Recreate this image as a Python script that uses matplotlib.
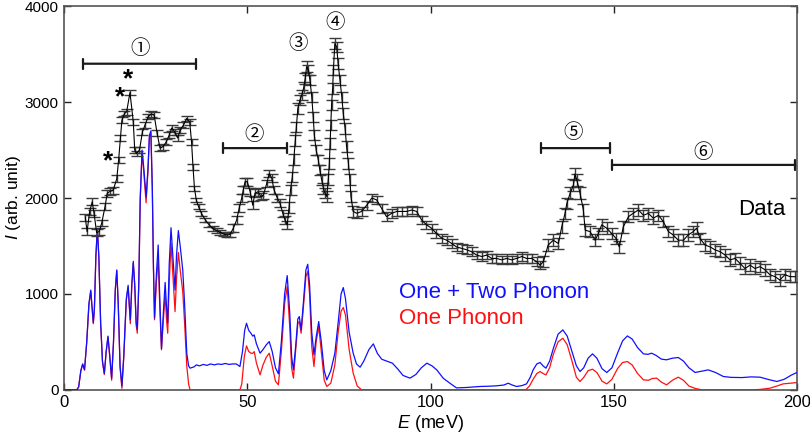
import numpy as np
import matplotlib.pyplot as plt

plt.rcParams['font.family'] = ['Liberation Sans', 'DejaVu Sans']
plt.rcParams['mathtext.fontset'] = 'custom'
plt.rcParams['mathtext.it'] = 'Liberation Sans:italic'
plt.rcParams['mathtext.rm'] = 'Liberation Sans'

# --- measured spectrum (E in meV, intensity) ---
E_data = [5.8, 6.3, 7.0, 7.7, 8.2, 8.9, 9.6, 10.3, 11.2, 11.8, 12.6, 13.4, 14.4, 14.9,
          15.4, 15.8, 16.5, 17.1, 18.0, 18.9, 19.3, 19.8, 20.6, 21.4, 22.1, 23.0, 23.8,
          24.6, 25.4, 26.2, 27.0, 27.9, 28.7, 29.4, 30.2, 31.0, 31.7, 32.6, 33.5, 34.3,
          34.8, 35.2, 35.6, 36.1, 36.7, 37.5, 38.6, 39.6, 40.7, 41.7, 42.7, 43.6, 44.5,
          45.3, 46.2, 47.1, 47.8, 48.5, 48.9, 49.4, 50.0, 50.8, 51.5, 52.1, 53.0, 53.7,
          54.4, 55.3, 56.0, 56.7, 57.3, 58.2, 58.9, 59.7, 60.3, 60.9, 61.4, 61.8, 62.3,
          62.7, 63.1, 63.4, 63.8, 64.4, 64.9, 65.4, 65.8, 66.2, 66.7, 67.1, 67.6, 68.0,
          68.3, 68.8, 69.4, 69.8, 70.3, 70.8, 71.2, 71.7, 72.1, 72.4, 72.6, 72.8, 73.0,
          73.3, 73.5, 73.9, 74.4, 74.8, 75.3, 75.8, 76.2, 76.7, 77.1, 77.6, 78.0, 78.3,
          78.9, 79.9, 81.2, 82.6, 84.0, 85.3, 86.7, 88.0, 89.4, 90.8, 92.1, 93.5, 94.9,
          96.2, 97.6, 98.9, 100.3, 101.6, 103.1, 104.4, 105.8, 107.1, 108.5, 109.9, 111.2,
          112.6, 114.0, 115.3, 116.7, 118.0, 119.4, 120.8, 122.1, 123.5, 124.9, 126.2,
          127.6, 129.0, 129.9, 130.8, 132.1, 133.5, 134.9, 135.8, 136.7, 137.2, 138.1,
          139.0, 139.4, 139.9, 140.8, 141.7, 142.2, 143.5, 144.9, 145.8, 146.7, 148.1,
          149.4, 150.6, 151.5, 152.6, 154.0, 155.3, 156.7, 158.1, 159.4, 160.8, 162.2,
          163.5, 164.9, 166.2, 167.6, 169.0, 170.3, 171.7, 172.6, 173.5, 174.9, 176.3,
          177.6, 179.0, 180.4, 181.7, 183.1, 184.4, 185.8, 187.2, 188.5, 189.9, 191.3,
          192.6, 194.0, 195.3, 196.7, 198.1, 199.5]
I_data = [1800, 1650, 1860, 1960, 1840, 1640, 1650, 1740, 1910, 2050, 2070, 2080, 2200, 2395,
          2625, 2810, 2880, 2900, 3100, 2795, 2500, 2465, 2500, 2690, 2760, 2850, 2875,
          2865, 2675, 2520, 2535, 2585, 2655, 2730, 2690, 2625, 2710, 2760, 2830, 2795,
          2585, 2325, 2100, 1980, 1910, 1840, 1770, 1720, 1680, 1660, 1640, 1625, 1615,
          1620, 1685, 1770, 1895, 2000, 2080, 2170, 2170, 2065, 1925, 2050, 2065, 2015,
          2030, 2150, 2255, 2205, 2085, 2000, 1950, 1840, 1770, 1720, 1900, 2085, 2220,
          2400, 2600, 2740, 2935, 3020, 3075, 3150, 3245, 3370, 3335, 3230, 3055, 2845,
          2655, 2500, 2395, 2290, 2190, 2100, 2050, 2015, 2190, 2360, 2570, 2760, 2970,
          3140, 3335, 3610, 3575, 3400, 3230, 3055, 2880, 2725, 2535, 2360, 2190, 2015,
          1860, 1840, 1860, 1925, 2000, 1980, 1890, 1805, 1840, 1860, 1860, 1860, 1875,
          1860, 1770, 1720, 1685, 1630, 1580, 1560, 1525, 1490, 1475, 1460, 1440,
          1405, 1390, 1405, 1370, 1370, 1355, 1370, 1355, 1370, 1390, 1370,
          1370, 1335, 1300, 1337, 1510, 1560, 1525, 1700, 1840, 1945, 2050,
          2135, 2250, 2190, 2050, 1875, 1665, 1650, 1560, 1630, 1720, 1685,
          1630, 1580, 1490, 1700, 1805, 1840, 1875, 1820, 1840, 1790, 1820,
          1755, 1650, 1615, 1560, 1560, 1615, 1650, 1685, 1580, 1510, 1490,
          1460, 1440, 1405, 1355, 1370, 1320, 1265, 1300, 1265, 1285, 1250,
          1200, 1180, 1145, 1200, 1180, 1180]

# error bar half-height read per energy range: (E_min, E_max, error)
err_ranges = [(0, 15, 35), (15, 36, 30), (36, 46, 25), (46, 61, 40),
              (61, 79, 55), (79, 130, 45), (130, 201, 60)]

# --- calculated spectra ---
E_two = [0, 3.5, 4.0, 4.6, 5.1, 5.6, 6.2, 6.8, 7.3, 7.7, 8.0, 8.3, 8.7, 9.1, 9.5, 10.0,
         10.5, 11.0, 11.5, 12.0, 12.5, 13.0, 13.5, 14.0, 14.4, 14.8, 15.3, 15.8, 16.3,
         17.0, 17.5, 17.8, 18.1, 18.5, 18.9, 19.3, 19.7, 20.0, 20.4, 20.8, 21.3, 21.8,
         22.4, 22.9, 23.3, 23.7, 24.1, 24.4, 24.7, 25.2, 25.7, 26.1, 26.6, 27.1, 27.6,
         28.0, 28.3, 28.7, 29.2, 29.7, 30.3, 30.7, 31.2, 31.7, 32.4, 32.9, 33.5, 34.0,
         34.4, 35.5, 36.1, 37, 38, 39, 40, 41, 42, 43, 44, 45, 46, 47, 48, 48.7, 49.3,
         49.8, 50.4, 51.0, 51.5, 51.9, 52.5, 53.5, 54.3, 55.2, 56.0, 56.8, 57.7, 58.5,
         59.3, 60.2, 60.9, 61.6, 62.1, 62.6, 63.2, 63.8, 64.2, 64.7, 65.3, 66.0, 66.5,
         67.0, 67.6, 68.2, 68.8, 69.5, 70.2, 71.0, 71.7, 72.8, 73.9, 74.8, 75.6, 76.2,
         76.8, 77.8, 78.9, 79.8, 80.8, 81.8, 83.2, 84.4, 85.5, 86.7, 88.0, 89.6, 91.0,
         92.5, 94.4, 96.0, 97.5, 99.0, 100.4, 101.7, 103.5, 105.3, 107.1, 110, 113.5,
         116, 118.0, 120, 121.2, 122.3, 123.5, 125, 126.2, 127.2, 128.0, 129.0, 129.9,
         130.7, 131.5, 132.5, 133.5, 134.8, 136.1, 137.3, 138.6, 139.8, 140.8, 141.8,
         143.0, 144.2, 145.4, 146.8, 148.1, 149.5, 151.0, 152.4, 153.7, 155.0, 156.5,
         158.1, 159.3, 160.3, 161.5, 163.0, 164.4, 166.0, 167.6, 169.0, 170.5, 172.2,
         174.0, 175.8, 177.8, 179.9, 182, 185, 187.5, 189.9, 192.5, 194.5, 196.5, 198.5,
         200]
I_two = [0, 0, 30, 200, 270, 210, 500, 900, 1040, 850, 700, 850, 1400, 1680, 1400, 700,
         300, 170, 400, 560, 350, 120, 500, 1050, 1250, 900, 250, 40, 350,
         950, 1090, 900, 730, 1100, 1340, 1100, 700, 630, 1100, 2000, 2500, 2300,
         2010, 2300, 2650, 2700, 2100, 1300, 750, 1200, 1510, 1000, 430, 800, 1120,
         850, 700, 1300, 1690, 1400, 1040, 1400, 1660, 1500, 1250, 900, 380, 250,
         226, 240, 260, 250, 265, 255, 270, 260, 270, 265, 275, 265, 270, 270, 243, 400, 620,
         694, 620, 590, 560, 573, 480, 382, 420, 470, 503, 400, 230, 167,
         500, 1000, 1191, 800, 350, 208, 450, 740, 764, 625, 900, 1250, 1309,
         1100, 600, 365, 550, 712, 500, 200, 104, 200, 382, 700, 1000, 1066,
         950, 600, 382, 270, 236, 300, 420, 479, 380, 319, 300, 278, 220,
         150, 122, 160, 230, 278, 250, 208, 120, 69, 20, 25, 35,
         38, 42, 50, 69, 50, 35, 45, 62, 130, 208, 270, 285,
         250, 226, 300, 430, 580, 625, 560, 400, 250, 191, 230,
         330, 375, 330, 220, 181, 230, 380, 510, 562, 530, 440,
         375, 370, 382, 360, 320, 313, 330, 337, 300, 230, 181,
         195, 208, 180, 139, 130, 128, 135, 132, 105, 87, 110, 155,
         181]

E_one = [0, 3.5, 4.0, 4.6, 5.1, 5.6, 6.2, 6.8, 7.3, 7.7, 8.0, 8.3, 8.7, 9.1, 9.5, 10.0,
         10.5, 11.0, 11.5, 12.0, 12.5, 13.0, 13.5, 14.0, 14.4, 14.8, 15.3, 15.8, 16.3,
         17.0, 17.5, 17.8, 18.1, 18.5, 18.9, 19.3, 19.7, 20.0, 20.4, 20.8, 21.3, 21.8,
         22.4, 22.9, 23.3, 23.7, 24.1, 24.4, 24.7, 25.2, 25.7, 26.1, 26.6, 27.1, 27.6,
         28.0, 28.3, 28.7, 29.2, 29.7, 30.3, 30.7, 31.2, 31.7, 32.4, 32.9, 33.5, 34.0,
         34.4, 48.0, 48.5, 49.2, 49.8, 50.4, 51.0, 51.5, 51.9, 52.5, 53.5, 54.3, 55.2,
         56.0, 56.8, 57.7, 58.5, 59.3, 60.2, 60.9, 61.6, 62.1, 62.6, 63.2, 63.8, 64.2,
         64.7, 65.3, 66.0, 66.5, 67.0, 67.6, 68.2, 68.8, 69.5, 70.2, 71.0, 71.7, 72.8,
         73.9, 74.8, 75.6, 76.2, 76.8, 77.8, 78.9, 80.0, 81.2, 126.0, 127.0, 128.0,
         129.0, 129.9, 130.7, 131.5, 132.5, 133.5, 134.8, 136.1, 137.3, 138.6, 139.8,
         140.8, 141.8, 143.0, 144.2, 145.4, 146.8, 148.1, 149.5, 151.0, 152.4, 153.7,
         155.0, 156.5, 158.1, 159.5, 160.5, 161.7, 163.0, 164.4, 166.0, 167.6, 169.0,
         170.5, 172.2, 174, 188, 190, 192.6, 194.5, 196.2, 200]
I_one = [0, 0, 30, 200, 265, 205, 490, 880, 1030, 840, 690, 840, 1390, 1670, 1390, 690,
         290, 160, 390, 550, 340, 100, 480, 1040, 1240, 890, 230, 15, 330,
         930, 1070, 870, 690, 1080, 1320, 1080, 670, 590, 1080, 1980, 2480, 2250,
         1950, 2270, 2630, 2690, 2080, 1280, 730, 1120, 1372, 900, 417, 720, 990,
         720, 590, 1100, 1528, 1200, 816, 1150, 1431, 1250, 1024, 700, 250, 60,
         0, 0, 60, 350, 458, 400, 382, 380, 399, 280, 156, 260, 340,
         382, 250, 90, 52, 400, 900, 1076, 650, 230, 122, 400, 690, 712,
         590, 850, 1180, 1233, 1000, 450, 243, 500, 660, 400, 100, 35, 70,
         260, 600, 820, 858, 780, 420, 174, 40, 0, 0, 40, 110,
         170, 191, 170, 156, 230, 370, 500, 538, 470, 300, 130,
         87, 130, 200, 215, 180, 90, 62, 110, 220, 285, 295,
         260, 170, 104, 100, 118, 122, 80, 52, 100, 132, 100,
         40, 15, 0, 0, 5, 17, 40, 62, 76]

# (E_start, E_end, I) for the region brackets, and label positions
brackets = [(5.2, 36.0, 3400), (43.4, 60.8, 2520), (130.2, 149.0, 2520), (149.5, 199.5, 2345)]
labels = [('①', 20.7, 3560), ('②', 52.0, 2660), ('③', 63.8, 3610),
          ('④', 74.0, 3830), ('⑤', 139.0, 2680), ('⑥', 174.4, 2470)]
stars = [(17.5, 3240), (15.3, 3050), (12.0, 2380)]

err = []
for e in E_data:
    for lo, hi, v in err_ranges:
        if lo <= e < hi:
            err.append(v)
            break

fig = plt.figure(figsize=(8.1, 4.4), dpi=100)
ax = fig.add_axes([0.079, 0.114, 0.905, 0.872])

ax.plot(E_one, I_one, color='#ff1010', lw=0.9, zorder=2)
ax.plot(E_two, I_two, color='#1010ff', lw=0.9, zorder=3)
ax.errorbar(E_data, I_data, yerr=err, color='black', lw=0.8, ecolor='#3a3a3a',
            elinewidth=1.0, capsize=4, capthick=1.0, zorder=4)

for x0, x1, y in brackets:
    ax.annotate('', xy=(x0, y), xytext=(x1, y),
                arrowprops=dict(arrowstyle='|-|,widthA=0.35,widthB=0.35', lw=1.6,
                                color='#1a1a1a', shrinkA=0, shrinkB=0))
for txt, x, y in labels:
    ax.text(x, y, txt, ha='center', va='center', fontsize=14,
            family=['Noto Sans CJK JP', 'DejaVu Sans'])
for x, y in stars:
    ax.text(x, y, '*', ha='center', va='center', fontsize=19, fontweight='bold')

ax.text(190.4, 1875, 'Data', ha='center', va='center', fontsize=16)
ax.text(91.5, 1010, 'One + Two Phonon', ha='left', va='center', fontsize=16, color='#1010ff')
ax.text(91.5, 740, 'One Phonon', ha='left', va='center', fontsize=16, color='#ff1010')

ax.set_xlim(0, 200)
ax.set_ylim(0, 4000)
ax.set_xticks([0, 50, 100, 150, 200])
ax.set_yticks([0, 1000, 2000, 3000, 4000])
ax.tick_params(direction='in', length=5, width=1, top=True, right=True,
               color='#222222', pad=4)
ax.tick_params(axis='x', labelsize=12)
ax.tick_params(axis='y', labelsize=11)
for sp in ax.spines.values():
    sp.set_color('#555555')
    sp.set_linewidth(1.2)

ax.set_xlabel('$\\it{E}$ (meV)', fontsize=13, labelpad=2)
ax.set_ylabel('$\\it{I}$ (arb. unit)', fontsize=12.5, labelpad=1)

fig.savefig('out.png', dpi=100)
